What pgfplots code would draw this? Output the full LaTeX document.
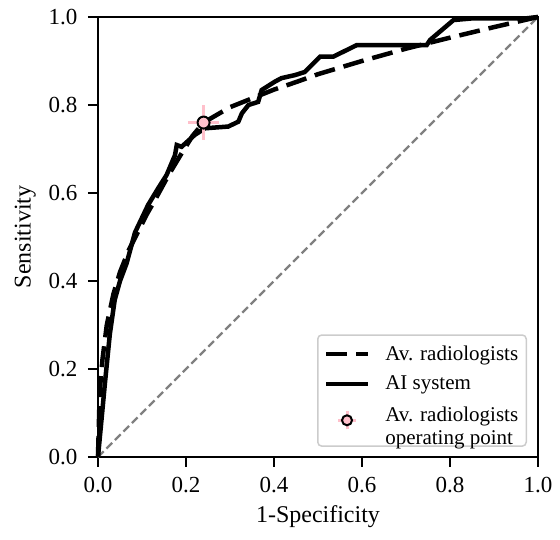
\documentclass[border=0pt]{standalone}
\usepackage{fontspec}
\setmainfont{Liberation Serif}
\usepackage{pgfplots}
\pgfplotsset{compat=1.18}
\definecolor{mpink}{HTML}{FFC0CB}
\pgfplotsset{longline/.style={legend image code/.code={\draw[##1] (0pt,0pt) -- (42pt,0pt);}}}

\begin{document}
\begin{tikzpicture}
\begin{axis}[
  width=440pt, height=440pt, scale only axis,
  xmin=0, xmax=1, ymin=0, ymax=1,
  xtick={0,0.2,...,1.0}, ytick={0,0.2,...,1.0},
  tick label style={/pgf/number format/fixed, /pgf/number format/fixed zerofill,
    /pgf/number format/precision=1, font=\fontsize{23}{24}\selectfont},
  /pgf/number format/assume math mode=true,
  xticklabel style={yshift=-7pt},
  yticklabel style={xshift=-7pt},
  tick align=outside, tick pos=left,
  major tick length=10pt,
  every tick/.style={black, line width=1.5pt},
  axis line style={line width=1.5pt},
  label style={font=\fontsize{24}{24}\selectfont},
  xlabel={1-Specificity}, ylabel={Sensitivity},
  xlabel style={at={(axis description cs:0.5,-0.136)}, anchor=center},
  ylabel style={at={(axis description cs:-0.165,0.5)}, anchor=center},
  clip=false,
  legend cell align=left,
  legend style={at={(0.975,0.023)}, anchor=south east,
    font=\fontsize{21}{23}\selectfont, draw=black!20, line width=1.5pt,
    rounded corners=4pt, inner xsep=6pt, inner ysep=9pt, row sep=10pt,
    /tikz/every odd column/.append style={column sep=13pt}},
]
\path (rel axis cs:-0.2227,-0.1886) rectangle (rel axis cs:1.05,1.0386);
\addplot[gray, line width=2.2pt, dash pattern=on 8pt off 4pt, forget plot]
  coordinates {(0,0) (1,1)};
% average radiologists
\addplot[black, line width=4.5pt, dash pattern=on 21pt off 9pt, longline] coordinates {
(0,0) (0.004,0.15) (0.01,0.22) (0.02,0.30) (0.035,0.37) (0.05,0.42)
(0.07,0.47) (0.09,0.51) (0.11,0.55) (0.13,0.585) (0.16,0.64)
(0.19,0.69) (0.215,0.73) (0.24,0.76) (0.3,0.795) (0.35,0.815)
(0.4,0.835) (0.45,0.852) (0.5,0.87) (0.6,0.9) (0.7,0.928)
(0.8,0.953) (0.9,0.977) (1,1)};
% AI system
\addplot[black, line width=4.5pt, longline] coordinates {
(0,0) (0.016,0.17) (0.027,0.28) (0.038,0.357) (0.05,0.4) (0.065,0.44)
(0.084,0.51) (0.114,0.573) (0.137,0.611) (0.156,0.641) (0.175,0.686)
(0.179,0.709) (0.19,0.705) (0.22,0.732) (0.243,0.747) (0.296,0.751)
(0.319,0.762) (0.327,0.781) (0.342,0.8) (0.364,0.807) (0.372,0.834)
(0.402,0.853) (0.417,0.861) (0.448,0.868) (0.47,0.875) (0.505,0.91)
(0.535,0.91) (0.588,0.936) (0.747,0.936) (0.755,0.948) (0.808,0.993)
(0.853,0.997) (0.974,0.997) (1,1)};
% operating point
\addplot[only marks, mark=*, mark size=6pt,
  mark options={fill=mpink, draw=black, line width=2pt},
  legend image code/.code={
    \draw[mpink, line width=3pt] (12pt,0pt) -- (30pt,0pt) (21pt,-9pt) -- (21pt,9pt);
    \draw[black, fill=mpink, line width=2pt] (21pt,0pt) circle (5pt);},
  error bars/.cd, x dir=both, x explicit, y dir=both, y explicit,
  error mark=none,
  error bar style={mpink, line width=3pt},
  ] coordinates {(0.24,0.76) +- (0.036,0.04)};
\legend{Av. radiologists, AI system,
  {\begin{tabular}{@{}l@{}}Av. radiologists\\operating point\end{tabular}}}
\end{axis}
\end{tikzpicture}
\end{document}
